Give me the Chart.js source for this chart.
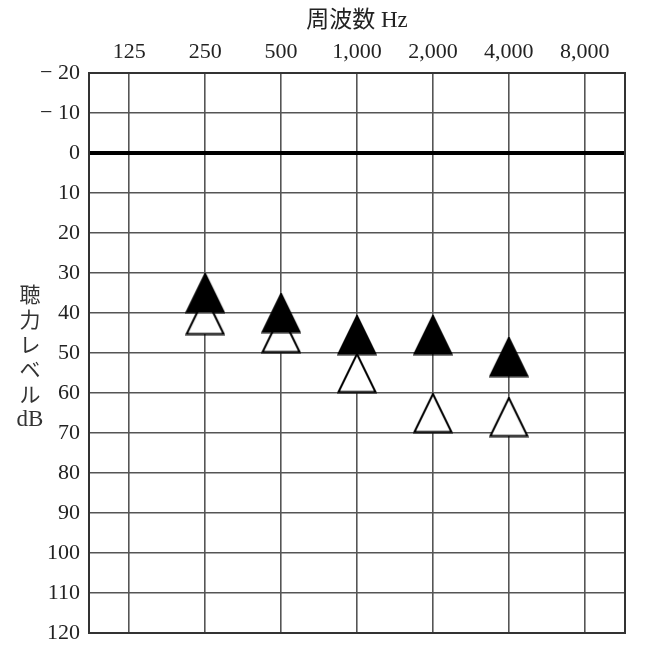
<!DOCTYPE html>
<html lang="ja">
<head>
<meta charset="UTF-8">
<title>聴力図</title>
<script src="https://cdn.jsdelivr.net/npm/chart.js"></script>
<style>
  html, body { margin: 0; padding: 0; background: #fff; overflow: hidden; }
  canvas { display: block; }
</style>
</head>
<body>
<canvas id="audiogram" width="652" height="654"></canvas>
<script>
// 周波数（オクターブ毎）と聴力レベル
const freqLabels = ['125', '250', '500', '1,000', '2,000', '4,000', '8,000'];
const filledLevels = [null, 35, 40, 45.5, 45.5, 51, null];   // ▲
const openLevels = [null, 40.5, 45, 55, 65, 66, null];       // △
const yTitleChars = ['聴', '力', 'レ', 'ベ', 'ル', 'dB'];

const serif = '"Liberation Serif", "Noto Sans CJK JP", serif';
const textColor = '#222';

// 三角マーカー（縦長ぎみ）
function makeTriangle(filled) {
  const w = 40, h = 41;
  const c = document.createElement('canvas');
  c.width = w; c.height = h;
  const g = c.getContext('2d');
  g.beginPath();
  g.moveTo(w / 2, 1.5);
  g.lineTo(w - 1.5, h - 1.5);
  g.lineTo(1.5, h - 1.5);
  g.closePath();
  g.fillStyle = filled ? '#000' : '#fff';
  g.fill();
  g.lineWidth = 2;
  g.strokeStyle = '#000';
  g.stroke();
  return c;
}

function toPoints(levels) {
  const pts = [];
  levels.forEach((v, i) => { if (v !== null) pts.push({ x: i, y: v }); });
  return pts;
}

// 枠線と縦書きの軸タイトル
const framePlugin = {
  id: 'frame',
  beforeDatasetsDraw(chart) {
    const { ctx, chartArea: a } = chart;
    ctx.save();
    ctx.strokeStyle = '#333';
    ctx.lineWidth = 2;
    ctx.strokeRect(a.left, a.top, a.right - a.left, a.bottom - a.top);
    ctx.restore();
  },
  afterDraw(chart) {
    const { ctx, chartArea: a } = chart;
    const step = 25;
    const mid = (a.top + a.bottom) / 2 + 4;
    const start = mid - step * (yTitleChars.length - 1) / 2;
    ctx.save();
    ctx.fillStyle = '#333';
    ctx.textAlign = 'center';
    ctx.textBaseline = 'middle';
    yTitleChars.forEach((ch, i) => {
      ctx.font = ch === 'dB' ? '23px ' + serif : '21px "Noto Sans CJK JP"';
      ctx.fillText(ch, a.left - 59, start + i * step);
    });
    ctx.restore();
  }
};

new Chart(document.getElementById('audiogram'), {
  type: 'line',
  data: {
    datasets: [
      {
        label: '▲',
        data: toPoints(filledLevels),
        showLine: false,
        pointStyle: makeTriangle(true),
        pointRadius: 20,
        pointHoverRadius: 20
      },
      {
        label: '△',
        data: toPoints(openLevels),
        showLine: false,
        pointStyle: makeTriangle(false),
        pointRadius: 20,
        pointHoverRadius: 20
      }
    ]
  },
  options: {
    responsive: false,
    animation: false,
    layout: { padding: { left: 0, right: 27, top: 0, bottom: 17 } },
    plugins: {
      legend: { display: false },
      tooltip: { enabled: false }
    },
    scales: {
      x: {
        type: 'linear',
        position: 'top',
        min: -0.53,
        max: 6.53,
        afterBuildTicks: (scale) => {
          scale.ticks = freqLabels.map((_, i) => ({ value: i }));
        },
        afterFit: (scale) => {
          scale.height = 73;
          scale.paddingLeft = 0;
          scale.paddingRight = 0;
        },
        ticks: {
          padding: 8,
          color: textColor,
          font: { family: serif, size: 22 },
          callback: (v) => freqLabels[v]
        },
        grid: { color: '#555', lineWidth: 1.6, drawTicks: false },
        border: { display: false },
        title: {
          display: true,
          text: '周波数 Hz',
          color: textColor,
          font: { family: serif, size: 23 },
          padding: { top: 7, bottom: 0 }
        }
      },
      y: {
        reverse: true,
        min: -20,
        max: 120,
        afterFit: (scale) => {
          scale.width = 89;
          scale.paddingTop = 0;
          scale.paddingBottom = 0;
        },
        ticks: {
          stepSize: 10,
          padding: 9,
          color: textColor,
          font: { family: serif, size: 22 },
          callback: (v) => (v < 0 ? '− ' + Math.abs(v) : String(v))
        },
        grid: {
          drawTicks: false,
          color: (c) => (c.tick && c.tick.value === 0 ? '#000' : '#555'),
          lineWidth: (c) => (c.tick && c.tick.value === 0 ? 4 : 1.6)
        },
        border: { display: false }
      }
    }
  },
  plugins: [framePlugin]
});
</script>
</body>
</html>
